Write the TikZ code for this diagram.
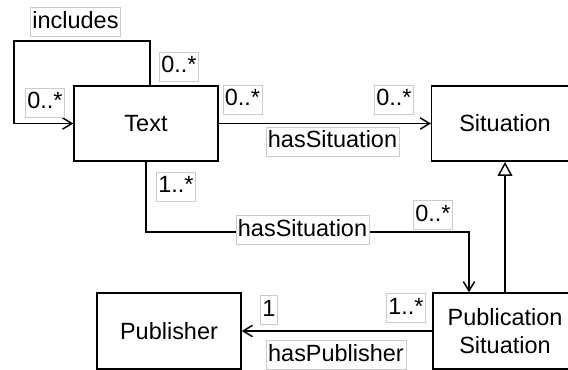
\documentclass[tikz,border=0pt]{standalone}
\usepackage{fontspec}
\setmainfont{Liberation Sans}
\usetikzlibrary{arrows.meta}

\newcommand{\umlfont}{\fontsize{17.6}{21}\selectfont}

\tikzset{
  umlclass/.style={draw, line width=1.1pt, fill=white, align=center,
    minimum width=108pt, minimum height=56.5pt, font=\umlfont},
  rolelbl/.style={draw=black!20, line width=0.5pt, fill=white, font=\umlfont,
    inner xsep=1.5pt, inner ysep=1.6pt, text height=14pt, text depth=4.5pt},
  assoc/.style={line width=1.1pt, -{Straight Barb[length=7pt,width=8.5pt]}},
  generalize/.style={line width=1.1pt, -{Triangle[open,length=10.5pt,width=11pt,fill=white]}}
}

\begin{document}
\begin{tikzpicture}[x=0.75pt,y=0.75pt,yscale=-1,xscale=1]
\clip (0,0) rectangle (568,370);

% classes
\node[umlclass] (text) at (146,123.5) {Text};
\node[umlclass, minimum width=110pt] (situation) at (505,123.5) {Situation};
\node[umlclass, minimum height=57pt] (publisher) at (169,331) {Publisher};
\node[umlclass, minimum height=57pt] (pubsit) at (505,331) {Publication\\Situation};

\coordinate (loop) at (14,41);
\coordinate (bend) at (469,232);

% self association on Text
\draw[assoc] ([xshift=3pt]text.north) |- (loop) |- (text.west);
% Text -> Situation
\draw[assoc] (text.east) -- (situation.west);
% Text -> Publication Situation
\draw[assoc] (text.south) |- (bend) -- (bend |- pubsit.north);
% Publication Situation -> Publisher
\draw[assoc] (pubsit.west) -- (publisher.east);
% subclass of Situation
\draw[generalize] (pubsit.north) -- (situation.south);

% role and association labels
\node[rolelbl] (incl) at (75.5,22) {includes};
\node[rolelbl] (inclsrc) at (179,66.5) {0..*};
\node[rolelbl] (incltgt) at (45,102.5) {0..*};
\node[rolelbl] (sitsrc) at (242.5,99.5) {0..*};
\node[rolelbl] (sittgt) at (394,99.5) {0..*};
\node[rolelbl] (sitname) at (332.5,141.5) {hasSituation};
\node[rolelbl] (pubsitsrc) at (176,186.5) {1..*};
\node[rolelbl] (pubsitname) at (302.5,230) {hasSituation};
\node[rolelbl] (pubsittgt) at (433,215) {0..*};
\node[rolelbl] (pubsrc) at (406,308) {1..*};
\node[rolelbl] (pubtgt) at (269,310) {1};
\node[rolelbl] (pubname) at (336,355) {hasPublisher};

\end{tikzpicture}
\end{document}
